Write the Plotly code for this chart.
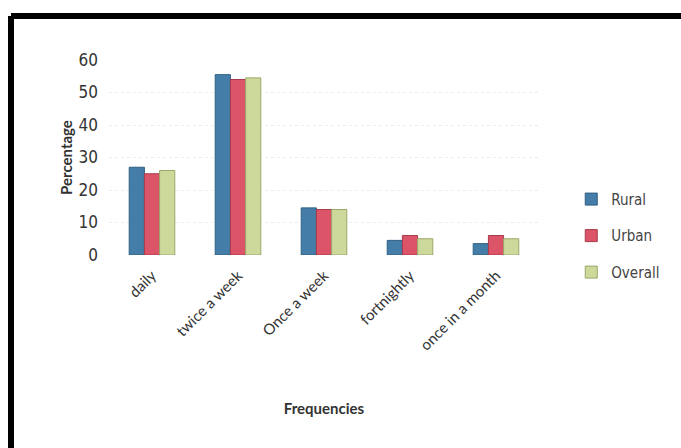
import plotly.graph_objects as go

# Survey: how often households do it, by area
frequencies = ["daily", "twice a week", "Once a week", "fortnightly", "once in a month"]
rural = [27, 55.5, 14.5, 4.5, 3.5]
urban = [25, 54, 14, 6, 6]
overall = [26, 54.5, 14, 5, 5]

series = [
    ("Rural", rural, "#447ea8", "#2f5f82"),
    ("Urban", urban, "#dc5468", "#a83a4b"),
    ("Overall", overall, "#cdd99b", "#9aa76a"),
]

fig = go.Figure()
for name, vals, fill, edge in series:
    fig.add_trace(go.Bar(
        x=frequencies, y=vals, name=name, legendgroup=name,
        marker=dict(color=fill, line=dict(color=edge, width=1)),
    ))

label_font = "Lato, 'Open Sans', sans-serif"
narrow_font = "'Liberation Sans Narrow', 'DejaVu Sans Condensed', sans-serif"

fig.update_layout(
    width=681, height=448,
    margin=dict(l=109, r=142, t=60, b=193),
    paper_bgcolor="white", plot_bgcolor="white",
    barmode="group", bargap=0.47, bargroupgap=0.0,
    font=dict(family=label_font, color="#333333"),
    xaxis=dict(
        automargin=False,
        tickangle=-45, tickfont=dict(size=15, color="#333333"),
        ticklabelstandoff=8,
        showline=False, showgrid=False, ticks="",
        title=dict(text="<b>Frequencies</b>", font=dict(size=15, color="#333333"), standoff=50),
    ),
    yaxis=dict(
        automargin=False,
        range=[0, 60], dtick=10, tickfont=dict(size=17, color="#333333", family=narrow_font),
        ticklabelstandoff=10,
        showline=False, zeroline=False, ticks="",
        showgrid=True, gridcolor="#ececec", griddash="dot", gridwidth=1,
        title=dict(text="<b>Percentage</b>", font=dict(size=15, color="#333333"), standoff=2),
    ),
    legend=dict(
        x=1.075, y=0.37, xanchor="left", yanchor="top",
        font=dict(size=15, color="#444444", family=narrow_font), tracegroupgap=14,
        itemwidth=30, bgcolor="rgba(0,0,0,0)",
    ),
    showlegend=True,
)

# Thick black frame on the top and left edges
frame = dict(type="line", xref="paper", yref="paper", line=dict(color="black", width=6))
fig.add_shape(**frame, x0=-0.2279, x1=1.34, y0=1.2256, y1=1.2256)
fig.add_shape(**frame, x0=-0.2279, x1=-0.2279, y0=1.2256, y1=-1.0)

fig.write_html("out.html")
